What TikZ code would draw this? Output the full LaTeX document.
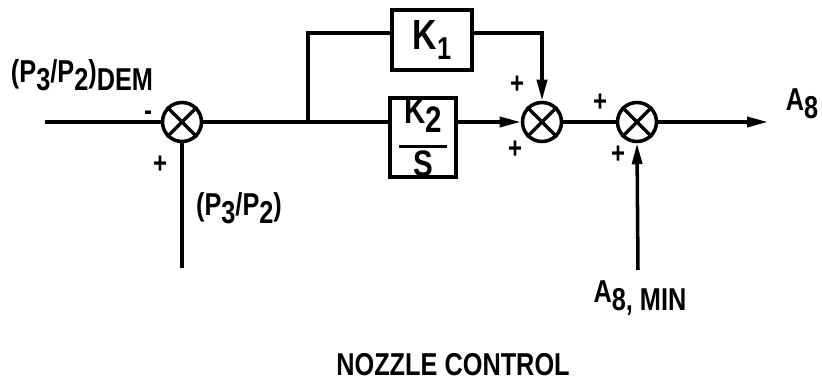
\documentclass[tikz,border=0pt]{standalone}
\usepackage{fontspec}
\setmainfont{Liberation Sans}[FakeStretch=0.8]
\usetikzlibrary{arrows.meta}

\newcommand{\lowr}[1]{\raisebox{-0.45ex}{#1}}

\begin{document}
\begin{tikzpicture}[
      >={Triangle[length=0.42cm,width=0.2cm]},
      line width=2pt,
      block/.style={draw, rectangle, inner sep=0pt, line width=2pt},
      sumj/.style={draw, circle, minimum size=0.78cm, inner sep=0pt, line width=2pt},
      sgn/.style={font=\fontsize{17}{17}\selectfont\bfseries},
      every node/.style={font=\fontsize{18}{20}\selectfont\bfseries}
    ]
    \useasboundingbox (0,0) rectangle (16.44,7.68);

    % Sumadores
    \node[sumj] (sum1) at (3.64,5.24) {};
    \node[sumj] (sum2) at (10.84,5.24) {};
    \node[sumj] (sum3) at (12.74,5.24) {};
    \foreach \s in {sum1,sum2,sum3}
      \draw (\s.45) -- (\s.225) (\s.135) -- (\s.-45);

    % Bloques de ganancia
    \node[block, minimum width=1.6cm, minimum height=1.2cm] (k1) at (8.64,6.88)
      {\fontsize{24}{24}\selectfont K\lowr{\fontsize{18}{18}\selectfont 1}};
    \node[block, minimum width=1.32cm, minimum height=1.58cm, align=center] (k2) at (8.46,4.93)
      {\fontsize{21}{21}\selectfont K\lowr{2}\\[-6pt]\rule{0.95cm}{2pt}\\[-4pt]\fontsize{21}{21}\selectfont S};

    % Puntos auxiliares
    \coordinate (inp) at (0.9,5.24);
    \coordinate (branch) at (6.16,5.24);
    \coordinate (ktop) at (6.16,7.02);
    \coordinate (fb) at (3.64,2.32);
    \coordinate (amin) at (12.76,2.28);
    \coordinate (out) at (15.36,5.24);

    % Entrada y realimentacion
    \draw (inp) -- (sum1.west);
    \draw (fb) -- (sum1.south);

    % Rama proporcional e integral
    \draw (sum1.east) -- (sum1.east -| k2.west);
    \draw (branch) -- (ktop) -- (ktop -| k1.west);
    \draw[->] (ktop -| k1.east) -| (sum2.north);
    \draw[->] (sum2.west -| k2.east) -- (sum2.west);

    % Salida
    \draw (sum2.east) -- (sum3.west);
    \draw[->] (amin) -- (sum3.south);
    \draw[->] (sum3.east) -- (out);

    % Etiquetas
    \node (dem) at (1.64,6.18) {(P\lowr{3}/P\lowr{2})\lowr{DEM}};
    \node (meas) at (4.78,3.52) {(P\lowr{3}/P\lowr{2})};
    \node (a8) at (16.04,5.6) {A\lowr{8}};
    \node (a8min) at (12.8,1.72) {A\lowr{8, MIN}};
    \node (title) at (9.06,0.38) {NOZZLE CONTROL};

    % Signos
    \node[sgn] at (2.96,5.36) {-};
    \node[sgn] at (3.2,4.38) {+};
    \node[sgn] at (10.34,5.98) {+};
    \node[sgn] at (10.3,4.68) {+};
    \node[sgn] at (12.0,5.62) {+};
    \node[sgn] at (12.36,4.58) {+};

  \end{tikzpicture}
\end{document}
